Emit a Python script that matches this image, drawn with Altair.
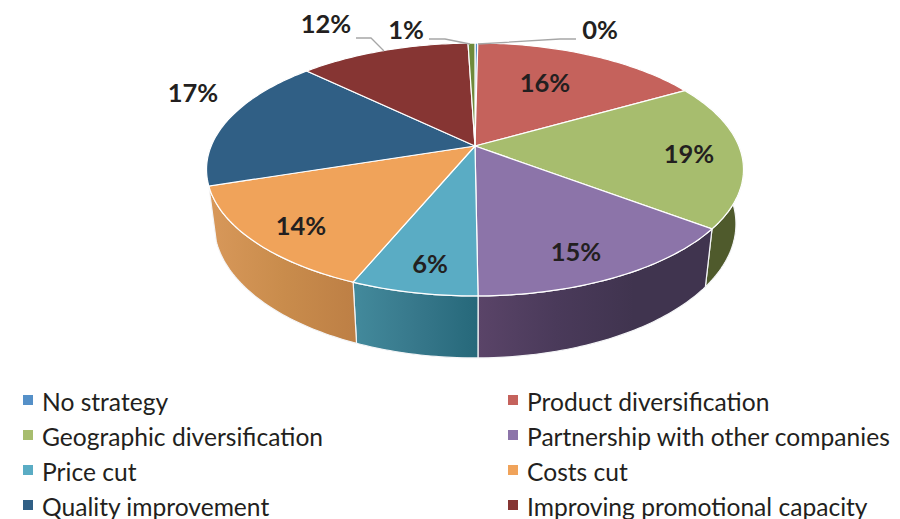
import math
import altair as alt

names = ["No strategy", "Product diversification", "Geographic diversification",
         "Partnership with other companies", "Price cut", "Costs cut",
         "Quality improvement", "Improving promotional capacity", "Other"]
shares = [0.2, 16.55, 18.55, 14.55, 6.4, 13.75, 17.2, 12.3, 0.5]
labels = ["0%", "16%", "19%", "15%", "6%", "14%", "17%", "12%", "1%"]
colors = ["#5590c8", "#c5625c", "#a7bd6e", "#8c74a9", "#5aacc4", "#f0a35a",
          "#305f85", "#863533", "#6f8a3b"]

label_x = [600, 545, 689, 576, 430, 301, 193, 326, 406]
label_y = [31, 84, 155, 253, 265, 227, 94, 25, 31]

legend_x = [23, 508, 23, 508, 23, 508, 23, 508]
legend_y = [400, 400, 435, 435, 470, 470, 505, 505]
legend_text_y = [404, 404, 439, 439, 474, 474, 509, 509]

wall_stops = {
    2: ["#4f5a2c", "#4f5a2c"],
    3: ["#5a4468", "#4a3a5a", "#40344f", "#40344f"],
    4: ["#438a9c", "#37788b", "#26687a"],
    5: ["#d8985a", "#c98c4c", "#bd7f45"],
}

leaders = [
    ("a", [356, 371, 384], [38, 38, 51]),
    ("b", [429, 445, 470], [39, 39, 44]),
    ("c", [576, 560, 478], [39, 39, 44]),
]

OFF = 8
CX, CY, A, B, K = 475.0, 146.0, 263.8, 122.1, 0.1858


def top_pt(t):
    u, v = math.sin(t), math.cos(t)
    d = 1 + K * v
    return CX + A * u / d, CY - B * v / d


def low_pt(t):
    x, y = top_pt(t)
    return CX + 0.972 * (x - CX), y + 62 - 0.06 * (296 - y)


def geo(pts):
    ring = [[x - OFF, -(y - OFF)] for x, y in pts]
    ring.append(ring[0])
    return {"type": "Polygon", "coordinates": [ring]}


def arc(t0, t1, fn):
    n = max(2, int(abs(t1 - t0) * 60))
    return [fn(t0 + (t1 - t0) * i / n) for i in range(n + 1)]


edges = [0.0]
for s in shares:
    edges.append(edges[-1] + s)
tot = edges[-1]
ang = [e / tot * 2 * math.pi for e in edges]

proj = dict(type="identity", reflectY=True, scale=1, translate=[0, 0])
layers = []

for i, stops in wall_stops.items():
    t0, t1 = ang[i], ang[i + 1]
    poly = arc(t0, t1, top_pt) + arc(t1, t0, low_pt)
    feat = {"type": "Feature", "properties": {"n": names[i]}, "geometry": geo(poly)}
    n = len(stops) - 1
    grad = alt.Gradient(gradient="linear", x1=0, x2=1, y1=0, y2=0,
                        stops=[alt.GradientStop(offset=k / n, color=c) for k, c in enumerate(stops)])
    layers.append(alt.Chart(alt.Data(values=[feat])).mark_geoshape(
        fill=grad, stroke="#f4f5f7", strokeWidth=1.2).project(**proj))

tops = []
for i in range(len(shares)):
    poly = [(CX, CY)] + arc(ang[i], ang[i + 1], top_pt)
    tops.append({"type": "Feature", "properties": {"c": colors[i], "n": names[i]}, "geometry": geo(poly)})
layers.append(alt.Chart(alt.Data(values=tops)).mark_geoshape(stroke="#ffffff", strokeWidth=1.2).encode(
    fill=alt.Fill("properties.c:N", scale=None, legend=None)).project(**proj))

lead_rows = []
for key, xs, ys in leaders:
    for j, (x, y) in enumerate(zip(xs, ys)):
        lead_rows.append({"k": key, "j": j, "x": x - OFF, "y": y - OFF})
layers.append(alt.Chart(alt.Data(values=lead_rows)).mark_line(color="#a6a6a6", strokeWidth=1.3).encode(
    x=alt.X("x:Q", scale=None, axis=None), y=alt.Y("y:Q", scale=None, axis=None),
    detail="k:N", order="j:Q"))

label_rows = [{"t": t, "x": x - OFF, "y": y - OFF} for t, x, y in zip(labels, label_x, label_y)]
layers.append(alt.Chart(alt.Data(values=label_rows)).mark_text(
    font="Lato", fontWeight="bold", fontSize=25.5, color="#231f20", align="center", baseline="middle").encode(
    x=alt.X("x:Q", scale=None, axis=None), y=alt.Y("y:Q", scale=None, axis=None), text="t:N"))

leg_rows = [{"t": n, "c": c, "x": x - OFF, "y": y - OFF, "ty": ty - OFF}
            for n, c, x, y, ty in zip(names, colors, legend_x, legend_y, legend_text_y)]
layers.append(alt.Chart(alt.Data(values=leg_rows)).mark_square(size=100, opacity=1).encode(
    x=alt.X("x2:Q", scale=None, axis=None), y=alt.Y("y:Q", scale=None, axis=None),
    fill=alt.Fill("c:N", scale=None, legend=None)
).transform_calculate(x2="datum.x + 5"))
layers.append(alt.Chart(alt.Data(values=leg_rows)).mark_text(
    font="Lato", fontSize=24.6, color="#231f20", align="left", baseline="middle").encode(
    x=alt.X("x3:Q", scale=None, axis=None), y=alt.Y("ty:Q", scale=None, axis=None), text="t:N"
).transform_calculate(x3="datum.x + 19"))

chart = alt.layer(*layers).properties(width=884, height=511, padding=0).configure_view(stroke=None)
chart.save("out.html", embed_options={"renderer": "svg", "actions": False})
